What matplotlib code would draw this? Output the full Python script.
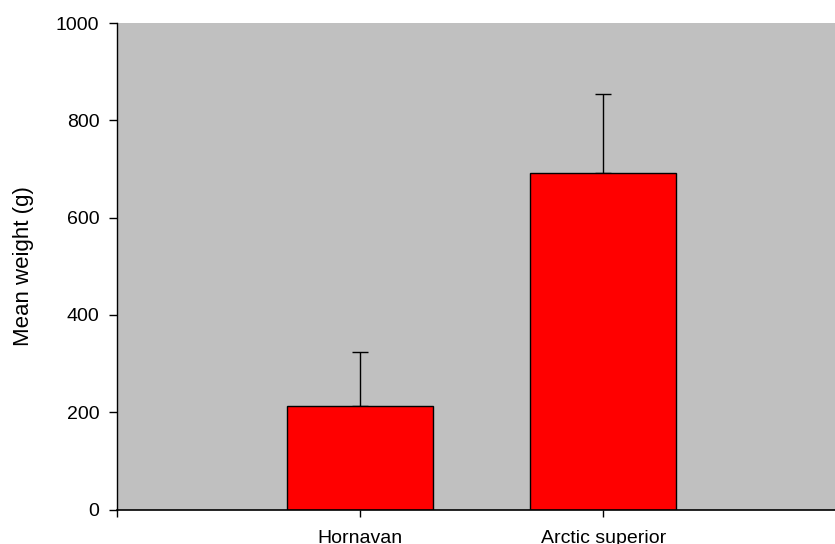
import matplotlib
matplotlib.use("Agg")
import matplotlib.pyplot as plt

# mean weight per group with upper standard error
groups = ["Hornavan", "Arctic superior"]
mean_weight = [212, 692]
upper_err = [112, 163]

plt.rcParams['font.family'] = ['Liberation Sans', 'DejaVu Sans']

fig = plt.figure(figsize=(8.35, 5.44), dpi=100)
ax = fig.add_axes([0.1407, 0.0634, 0.8725, 0.8943])
ax.set_facecolor('#c0c0c0')

pos = [1, 2]
ax.bar(pos, mean_weight, width=0.6, color='#ff0000', edgecolor='black',
       linewidth=1.0, zorder=2)
ax.errorbar(pos, mean_weight, yerr=[[0, 0], upper_err], fmt='none',
            ecolor='black', elinewidth=1.0, capsize=6, capthick=1.0, zorder=1)

ax.set_xlim(0, 3)
ax.set_ylim(0, 1000)
ax.set_yticks(range(0, 1001, 200))
ax.set_xticks([0, 1, 2, 3])
ax.set_xticklabels([''] + groups + [''])

ax.spines['top'].set_visible(False)
ax.spines['right'].set_visible(False)
ax.spines['left'].set_linewidth(1.0)
ax.spines['bottom'].set_linewidth(1.2)

ax.tick_params(axis='y', direction='out', length=6, width=1, labelsize=14, pad=7)
ax.tick_params(axis='x', direction='out', length=5, width=1, labelsize=14, pad=9.5)
ax.set_ylabel('Mean weight (g)', fontsize=16, labelpad=16)

fig.savefig('out.png', dpi=100)
